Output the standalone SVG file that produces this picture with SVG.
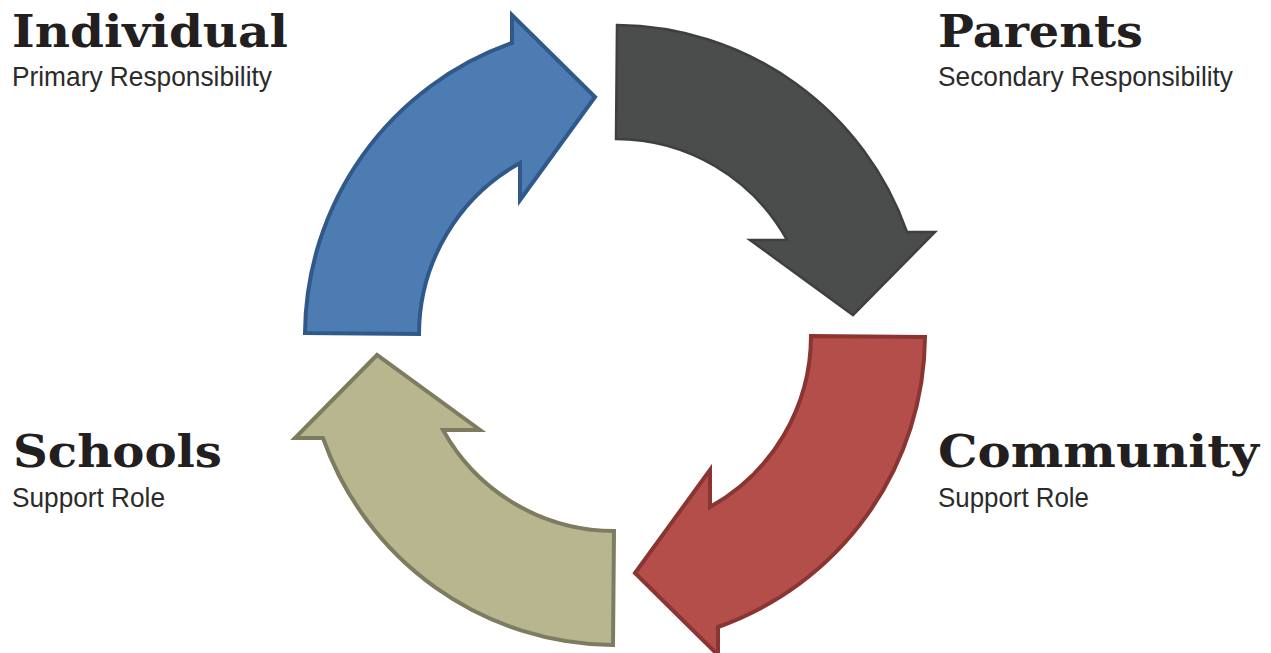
<svg xmlns="http://www.w3.org/2000/svg" xmlns:xlink="http://www.w3.org/1999/xlink" width="1271" height="653" viewBox="0 0 1271 653">
<style>
.title{font-family:"DejaVu Serif","Liberation Serif",serif;font-weight:bold;font-size:44px;fill:#231f20}
.sub{font-family:"Liberation Sans",Arial,sans-serif;font-size:28px;fill:#2b2b2b}
.blue{fill:#4c7cb1;stroke:#30598a;stroke-width:4;stroke-linejoin:miter}
.dark{fill:#4b4c4c;stroke:#3e3f3f;stroke-width:2.5;stroke-linejoin:miter}
.red{fill:#b44e4b;stroke:#8a3532;stroke-width:4;stroke-linejoin:miter}
.khaki{fill:#b8b68f;stroke:#7e7c60;stroke-width:4;stroke-linejoin:miter}
</style>
<defs>
<path id="arr" d="M 305,333 A 310 310 0 0 1 512,43 L 512,15 L 595,97 L 520,200 L 520,163 A 196 196 0 0 0 419,334 Z"/>
</defs>
<rect width="1271" height="653" fill="#ffffff"/>
<g id="connectors"/>
<g id="individual">
<use xlink:href="#arr" href="#arr" class="blue"/>
<text class="title" x="12" y="47" textLength="276" lengthAdjust="spacingAndGlyphs">Individual</text>
<text class="sub" x="12" y="86" textLength="260" lengthAdjust="spacingAndGlyphs">Primary Responsibility</text>
</g>
<g id="parents">
<use xlink:href="#arr" href="#arr" class="dark" transform="rotate(90 615 335)"/>
<text class="title" x="938" y="47" textLength="205" lengthAdjust="spacingAndGlyphs">Parents</text>
<text class="sub" x="938" y="86" textLength="295" lengthAdjust="spacingAndGlyphs">Secondary Responsibility</text>
</g>
<g id="community">
<use xlink:href="#arr" href="#arr" class="red" transform="rotate(180 615 335)"/>
<text class="title" x="938" y="467" textLength="321" lengthAdjust="spacingAndGlyphs">Community</text>
<text class="sub" x="938" y="507" textLength="151" lengthAdjust="spacingAndGlyphs">Support Role</text>
</g>
<g id="schools">
<use xlink:href="#arr" href="#arr" class="khaki" transform="rotate(270 615 335)"/>
<text class="title" x="13" y="467" textLength="209" lengthAdjust="spacingAndGlyphs">Schools</text>
<text class="sub" x="12" y="507" textLength="153" lengthAdjust="spacingAndGlyphs">Support Role</text>
</g>
</svg>
